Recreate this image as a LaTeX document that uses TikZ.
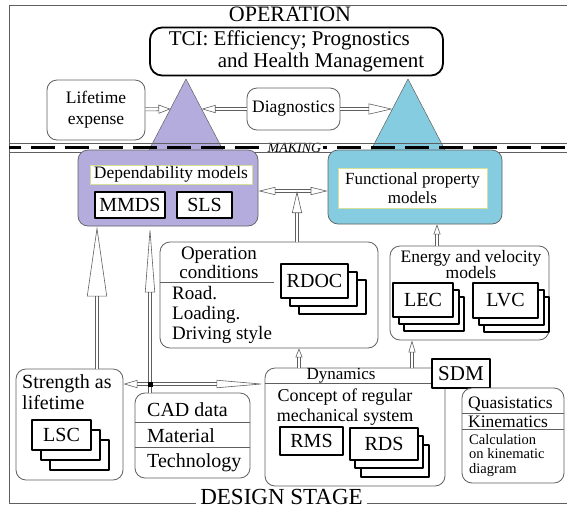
\documentclass[tikz,border=0pt]{standalone}
\usepackage{fontspec}
\setmainfont{Liberation Serif}
\usetikzlibrary{arrows.meta,shadows}

\definecolor{lavender}{RGB}{181,172,222}
\definecolor{skyblue}{RGB}{134,204,224}
\definecolor{olivelight}{RGB}{212,224,150}
\definecolor{framegray}{RGB}{95,95,95}

\tikzset{
  rbox/.style={draw=framegray, line width=0.8pt, rounded corners=10pt, fill=white, inner sep=0pt},
  codebox/.style={draw=black, line width=1.8pt, fill=white, inner sep=0pt, font=\fontsize{20}{22}\selectfont},
  docs/.style n args={4}{codebox,
    copy shadow={shadow xshift=#3, shadow yshift=-#4},
    copy shadow={shadow xshift=#1, shadow yshift=-#2}},
  txt/.style={inner sep=0pt},
  hollow/.style={draw=framegray, line width=0.6pt, double=white, double distance=2.6pt},
}

\begin{document}
\begin{tikzpicture}[x=1pt, y=-1pt, line join=round]
  \useasboundingbox (0,0) rectangle (567,509);

  % frame
  \draw[framegray, line width=0.9pt] (567,5) -- (9,5) -- (9,503) -- (567,503);
  \node[fill=white, inner xsep=6pt, inner ysep=1pt, font=\fontsize{22}{24}\selectfont] (oper) at (290,14) {OPERATION};
  \node[fill=white, inner xsep=4pt, inner ysep=0pt, font=\fontsize{23}{24}\selectfont] (design) at (281.5,496.5) {DESIGN STAGE};

  % TCI
  \node[draw=black, line width=1.8pt, rounded corners=12pt, fill=white, minimum width=293pt, minimum height=47pt,
        align=left, font=\fontsize{21}{22}\selectfont] (tci) at (296.5,51.5)
        {TCI: Efficiency; Prognostics\\\hspace*{49pt}and Health Management};

  % triangles
  \filldraw[fill=lavender, draw=framegray, line width=0.5pt] (186,79) -- (148,152) -- (224,152) -- cycle;
  \filldraw[fill=skyblue, draw=framegray, line width=0.5pt] (408,79) -- (370,152) -- (446,152) -- cycle;
  \coordinate (t1w) at (170.5,109);
  \coordinate (t1e) at (201.5,109);
  \coordinate (t2w) at (392.5,109);

  % lifetime expense, diagnostics
  \node[rbox, minimum width=98pt, minimum height=60pt, align=center, font=\fontsize{17.5}{21}\selectfont] (lifeexp) at (96,110) {Lifetime\\expense};
  \node[rbox, minimum width=93pt, minimum height=42pt, font=\fontsize{17.5}{21}\selectfont] (diag) at (293.5,109) {Diagnostics};
  \draw[hollow, -{Triangle[open, length=12pt, width=9pt]}] (lifeexp) -- (t1w);
  \draw[hollow, -{Triangle[open, length=14pt, width=8pt]}] (diag) -- (t1e);
  \draw[hollow, -{Triangle[open, length=24pt, width=11pt]}] (diag) -- (t2w);

  % making
  \draw[black, line width=2.4pt, dash pattern=on 24pt off 10pt, dash phase=12pt] (9,147.5) -- (567,147.5);
  \node[fill=white, inner xsep=2pt, inner ysep=0pt, font=\itshape\fontsize{14}{14}\selectfont] (making) at (294.5,147.5) {MAKING};
  \draw[framegray, line width=0.7pt] (9,143) -- (567,143) (9,152) -- (567,152);

  % dependability models
  \node[draw=framegray, line width=0.7pt, fill=lavender, rounded corners=10pt, minimum width=180pt, minimum height=76pt] (depbox) at (168,188) {};
  \node[draw=olivelight, fill=white, line width=0.8pt, inner sep=0pt, minimum width=162pt, minimum height=19pt,
        font=\fontsize{17.5}{19}\selectfont] (deptitle) at (171,174.5) {Dependability models};
  \node[codebox, minimum width=70pt, minimum height=26pt] (mmds) at (130,205) {MMDS};
  \node[codebox, minimum width=55pt, minimum height=26pt] (sls) at (204.5,205) {SLS};

  % functional property models
  \node[draw=framegray, line width=0.7pt, fill=skyblue, rounded corners=10pt, minimum width=174pt, minimum height=74pt] (funbox) at (415,187) {};
  \node[draw=olivelight, fill=white, line width=0.8pt, inner sep=0pt, minimum width=149pt, minimum height=40pt,
        align=center, font=\fontsize{17}{19}\selectfont] (funtitle) at (412.5,188) {Functional property\\models};

  % operation conditions
  \node[rbox, minimum width=218pt, minimum height=106pt] (opcond) at (269,295) {};
  \node[txt, align=center, font=\fontsize{19}{19}\selectfont] (opname) at (219,262.5) {Operation\\conditions};
  \draw[framegray, line width=0.7pt] (opcond.west |- 0,282) -- (274,282);
  \node[txt, anchor=north west, align=left, font=\fontsize{19}{20}\selectfont] (opitems) at (172,286) {Road.\\Loading.\\Driving style};
  \node[docs={9pt}{8pt}{18pt}{16pt}, minimum width=67pt, minimum height=34pt] (rdoc) at (314.5,281) {RDOC};

  % energy and velocity models
  \node[rbox, minimum width=159pt, minimum height=94pt] (energy) at (469.5,293) {};
  \node[txt, align=center, font=\fontsize{17.5}{16}\selectfont] (energyname) at (471,265) {Energy and velocity\\models};
  \node[docs={6pt}{7pt}{11pt}{14pt}, minimum width=60pt, minimum height=34pt] (lec) at (423,300) {LEC};
  \node[docs={6pt}{7pt}{11pt}{14pt}, minimum width=65pt, minimum height=35pt] (lvc) at (505.5,300.5) {LVC};

  % strength as lifetime
  \node[rbox, minimum width=107pt, minimum height=111pt] (strength) at (69.5,424.5) {};
  \node[txt, anchor=west, align=left, font=\fontsize{20}{21}\selectfont] (strengthname) at (22,392.5) {Strength as\\lifetime};
  \node[docs={9pt}{10pt}{18pt}{20pt}, minimum width=59pt, minimum height=30pt] (lsc) at (61.5,435) {LSC};

  % CAD data
  \node[rbox, minimum width=115pt, minimum height=85pt] (cad) at (192.5,435.5) {};
  \draw[framegray, line width=0.7pt] (cad.west |- 0,422) -- (cad.east |- 0,422) (cad.west |- 0,447) -- (cad.east |- 0,447);
  \node[txt, anchor=base west, font=\fontsize{20}{20}\selectfont] (caddata) at (147,416) {CAD data};
  \node[txt, anchor=base west, font=\fontsize{20}{20}\selectfont] (material) at (147,442) {Material};
  \node[txt, anchor=base west, font=\fontsize{20}{20}\selectfont] (technology) at (147,467) {Technology};

  % dynamics
  \node[rbox, minimum width=180pt, minimum height=118pt] (dyn) at (355,427) {};
  \node[codebox, minimum width=58pt, minimum height=29pt, font=\fontsize{21}{22}\selectfont] (sdm) at (461,373.5) {SDM};
  \draw[framegray, line width=0.7pt] (dyn.west |- 0,383) -- (sdm.west |- 0,383);
  \node[txt, font=\fontsize{17}{17}\selectfont] (dynname) at (341,375.5) {Dynamics};
  \node[txt, align=center, font=\fontsize{18}{20}\selectfont] (concept) at (345,407) {Concept of regular\\mechanical system};
  \node[codebox, minimum width=63pt, minimum height=28pt] (rms) at (311.5,441) {RMS};
  \node[docs={5pt}{8pt}{11pt}{17pt}, minimum width=68pt, minimum height=32pt] (rds) at (384,444) {RDS};

  % quasistatics
  \node[rbox, minimum width=102pt, minimum height=95pt] (quasi) at (513,435.5) {};
  \draw[framegray, line width=0.7pt] (quasi.west |- 0,413) -- (quasi.east |- 0,413) (quasi.west |- 0,429) -- (quasi.east |- 0,429);
  \node[txt, anchor=base west, font=\fontsize{17.5}{18}\selectfont] (quasiname) at (468,408.5) {Quasistatics};
  \node[txt, anchor=base west, font=\fontsize{17.5}{18}\selectfont] (kinname) at (468,427) {Kinematics};
  \node[txt, anchor=north west, align=left, font=\fontsize{14.5}{14.5}\selectfont] (calc) at (469,434) {Calculation\\on kinematic\\diagram};

  % connectors
  \coordinate (opup) at (297,191);
  \coordinate (fx) at (437,0);
  \coordinate (sx) at (97,0);
  \coordinate (cx) at (150,0);
  \coordinate (dx1) at (299,0);
  \coordinate (dx2) at (412,0);
  \coordinate (hy) at (0,384);
  \draw[hollow, {Triangle[open, length=17pt, width=8pt]}-{Triangle[open, length=17pt, width=8pt]}] (depbox.east |- opup) -- (funbox.west |- opup);
  \draw[hollow, -{Triangle[open, length=22pt, width=10pt]}] (opcond.north -| opup) -- (opup);
  \draw[hollow, -{Triangle[open, length=10pt, width=7pt]}] (energy.north -| fx) -- (funbox.south -| fx);
  \draw[hollow, -{Triangle[open, length=70pt, width=20pt]}] (strength.north -| sx) -- (depbox.south -| sx);
  \draw[hollow, {Triangle[open, length=14pt, width=8pt]}-{Triangle[open, length=48pt, width=8pt]}] (strength.east |- hy) -- (dyn.west |- hy);
  \draw[hollow, -{Triangle[open, length=66pt, width=10pt]}] (cad.north -| cx) -- (depbox.south -| cx);
  \node[fill=black, inner sep=0pt, minimum size=5pt] (jn) at (cx |- hy) {};
  \draw[hollow, -{Triangle[open, length=9pt, width=7pt]}] (dyn.north -| dx1) -- (opcond.south -| dx1);
  \draw[hollow, -{Triangle[open, length=12pt, width=7pt]}] (dyn.north -| dx2) -- (energy.south -| dx2);
\end{tikzpicture}
\end{document}
